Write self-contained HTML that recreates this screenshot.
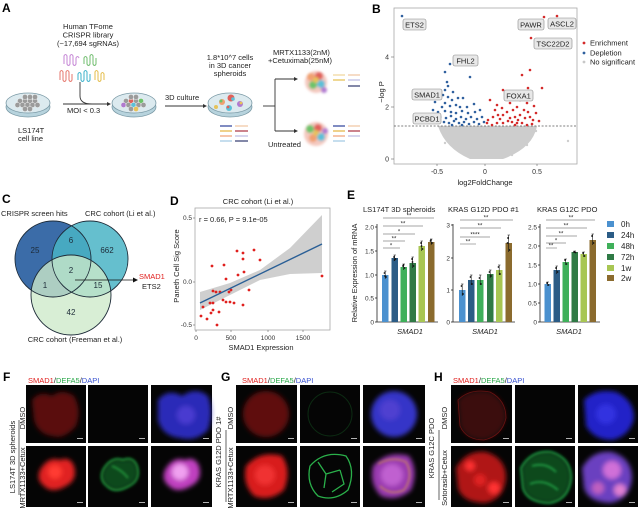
<!DOCTYPE html>
<html><head><meta charset="utf-8"><style>
html,body{margin:0;padding:0;background:#fff;}
svg{display:block;font-family:"Liberation Sans",Arial,sans-serif;}
</style></head><body>
<svg width="640" height="513" viewBox="0 0 640 513" xmlns="http://www.w3.org/2000/svg">
<defs>
<filter id="b1" x="-20%" y="-20%" width="140%" height="140%"><feGaussianBlur stdDeviation="1.2"/></filter>
<filter id="b2" x="-20%" y="-20%" width="140%" height="140%"><feGaussianBlur stdDeviation="2.5"/></filter>
<filter id="b3" x="-30%" y="-30%" width="160%" height="160%"><feGaussianBlur stdDeviation="4"/></filter>
</defs>
<rect width="640" height="513" fill="#fff"/>

<!-- ================= PANEL A ================= -->
<text x="2" y="12" font-size="12" font-weight="bold">A</text>
<g font-size="7.5" fill="#222" text-anchor="middle">
<text x="88" y="29">Human TFome</text>
<text x="88" y="37.5">CRISPR library</text>
<text x="88" y="46">(~17,694 sgRNAs)</text>
</g>
<g fill="none" stroke-width="1.1">
<path d="M64 64 v-8 q1.5 -3 3 0 v8 q1.5 3 3 0 v-8 q1.5 -3 3 0 v8 q1.5 3 3 0 v-6 q1.5-3 3 0" stroke="#c98fd8"/>
<path d="M84 64 v-6 q1.5 -3 3 0 v6 q1.5 3 3 0 v-8 q1.5 -3 3 0 v8 q1.5 3 3 0 v-6" stroke="#7cc27a"/>
<path d="M60 80 v-8 q1.5 -3 3 0 v8 q1.5 3 3 0 v-8 q1.5 -3 3 0 v8 q1.5 3 3 0 v-6" stroke="#e8837a"/>
<path d="M78 80 v-6 q1.5 -3 3 0 v6 q1.5 3 3 0 v-8 q1.5 -3 3 0 v8 q1.5 3 3 0 v-6" stroke="#4eb8cf"/>
<path d="M95 80 v-8 q1.5 -3 3 0 v8 q1.5 3 3 0 v-6 q1.5 -3 3 0 v6" stroke="#e6c25a"/>
</g>
<path d="M80 82 L80 96 Q80 104 92 104" fill="none" stroke="#333" stroke-width="0.9"/>
<g stroke="#7b9aa6" stroke-width="0.8">
<ellipse cx="28" cy="107" rx="22" ry="10" fill="#b7d3dd"/>
<ellipse cx="28" cy="103" rx="22" ry="10" fill="#dceaef"/>
<ellipse cx="134" cy="107" rx="22" ry="10" fill="#b7d3dd"/>
<ellipse cx="134" cy="103" rx="22" ry="10" fill="#dceaef"/>
<ellipse cx="230" cy="107" rx="22" ry="10" fill="#b7d3dd"/>
<ellipse cx="230" cy="103" rx="22" ry="10" fill="#dceaef"/>
</g>
<g fill="#9b9b9b" stroke="#eee" stroke-width="0.5">
<circle cx="20" cy="101" r="2.6"/><circle cx="25" cy="101" r="2.6"/><circle cx="30" cy="101" r="2.6"/><circle cx="35" cy="101" r="2.6"/>
<circle cx="17.5" cy="105" r="2.6"/><circle cx="22.5" cy="105" r="2.6"/><circle cx="27.5" cy="105" r="2.6"/><circle cx="32.5" cy="105" r="2.6"/><circle cx="37.5" cy="105" r="2.6"/>
<circle cx="25" cy="97" r="2.6"/><circle cx="30" cy="97" r="2.6"/><circle cx="35" cy="97" r="2.6"/>
<circle cx="25" cy="109" r="2.6"/><circle cx="30" cy="109" r="2.6"/>
</g>
<g stroke="#eee" stroke-width="0.5">
<circle cx="126" cy="101" r="2.6" fill="#9b9b9b"/><circle cx="131" cy="101" r="2.6" fill="#e0605a"/><circle cx="136" cy="101" r="2.6" fill="#9b9b9b"/><circle cx="141" cy="101" r="2.6" fill="#6cc36a"/>
<circle cx="123.5" cy="105" r="2.6" fill="#b07ad0"/><circle cx="128.5" cy="105" r="2.6" fill="#9b9b9b"/><circle cx="133.5" cy="105" r="2.6" fill="#5cc0d8"/><circle cx="138.5" cy="105" r="2.6" fill="#9b9b9b"/><circle cx="143.5" cy="105" r="2.6" fill="#9b9b9b"/>
<circle cx="131" cy="97" r="2.6" fill="#9b9b9b"/><circle cx="136" cy="97" r="2.6" fill="#9b9b9b"/>
<circle cx="131" cy="109" r="2.6" fill="#9b9b9b"/><circle cx="136" cy="109" r="2.6" fill="#e6c25a"/>
</g>
<g>
<circle cx="222" cy="102" r="3" fill="#f0a070"/><circle cx="221" cy="101" r="1.5" fill="#6cc36a"/>
<circle cx="231" cy="98" r="3.5" fill="#e0605a"/><circle cx="233" cy="99" r="1.8" fill="#5cc0d8"/>
<circle cx="240" cy="104" r="3" fill="#b07ad0"/><circle cx="241" cy="103" r="1.4" fill="#e6c25a"/>
<circle cx="229" cy="108" r="3" fill="#5cc0d8"/><circle cx="228" cy="107" r="1.4" fill="#e0605a"/>
<circle cx="216" cy="107" r="2" fill="#e6c25a"/>
</g>
<text x="18" y="133" font-size="7.5" fill="#222">LS174T</text>
<text x="18" y="141" font-size="7.5" fill="#222">cell line</text>
<line x1="63" y1="104" x2="107" y2="104" stroke="#333" stroke-width="0.9"/>
<path d="M107 102 L111 104 L107 106 Z" fill="#333"/>
<text x="67" y="113" font-size="7.5" fill="#222">MOI &lt; 0.3</text>
<text x="165" y="100" font-size="7.5" fill="#222">3D culture</text>
<line x1="165" y1="106" x2="203" y2="106" stroke="#333" stroke-width="0.9"/>
<path d="M203 104 L207 106 L203 108 Z" fill="#333"/>
<g font-size="7.5" fill="#222" text-anchor="middle">
<text x="230" y="60">1.8*10^7 cells</text>
<text x="230" y="68">in 3D cancer</text>
<text x="230" y="76">spheroids</text>
</g>
<g stroke-width="1.3">
<line x1="220" y1="126" x2="232" y2="126" stroke="#3b4fa0"/><line x1="235" y1="126" x2="248" y2="126" stroke="#f2c9a8"/>
<line x1="220" y1="131" x2="232" y2="131" stroke="#e6b84a"/><line x1="235" y1="131" x2="248" y2="131" stroke="#b0404e"/>
<line x1="220" y1="136" x2="232" y2="136" stroke="#f0a880"/><line x1="235" y1="136" x2="248" y2="136" stroke="#c0c0e4"/>
<line x1="220" y1="141" x2="232" y2="141" stroke="#a8cce4"/><line x1="235" y1="141" x2="248" y2="141" stroke="#404878"/>
</g>
<g stroke="#333" stroke-width="0.9" fill="none">
<line x1="263" y1="106" x2="275" y2="106"/>
<line x1="275" y1="79" x2="275" y2="131"/>
<line x1="275" y1="79" x2="294" y2="79"/>
<line x1="275" y1="131" x2="294" y2="131"/>
</g>
<path d="M294 77 L298 79 L294 81 Z M294 129 L298 131 L294 133 Z" fill="#333"/>
<text x="273" y="55" font-size="7.5" fill="#222">MRTX1133(2nM)</text>
<text x="268" y="63" font-size="7.5" fill="#222">+Cetuximab(25nM)</text>
<text x="268" y="147" font-size="7.5" fill="#222">Untreated</text>
<g filter="url(#b1)">
<circle cx="316" cy="82" r="11" fill="#f4c9c0"/>
<circle cx="311" cy="77" r="4" fill="#f0a070"/><circle cx="319" cy="76" r="4" fill="#e0605a"/>
<circle cx="313" cy="85" r="4" fill="#6cc36a"/><circle cx="321" cy="84" r="4" fill="#5cc0d8"/>
<circle cx="316" cy="80" r="3" fill="#e6c25a"/><circle cx="324" cy="90" r="3" fill="#b07ad0"/>
<circle cx="316" cy="134" r="12" fill="#f4c9c0"/>
<circle cx="310" cy="129" r="4" fill="#6cc36a"/><circle cx="318" cy="128" r="4" fill="#e0605a"/>
<circle cx="313" cy="138" r="4" fill="#f0a070"/><circle cx="321" cy="137" r="4" fill="#5cc0d8"/>
<circle cx="316" cy="133" r="3" fill="#e6c25a"/><circle cx="325" cy="131" r="3" fill="#b07ad0"/>
</g>
<g stroke-width="1.3">
<line x1="333" y1="75" x2="345" y2="75" stroke="#f2d8a0"/><line x1="348" y1="75" x2="360" y2="75" stroke="#f2c9a8"/>
<line x1="333" y1="80" x2="345" y2="80" stroke="#e6c25a"/><line x1="348" y1="80" x2="360" y2="80" stroke="#c0c0e4"/>
<line x1="348" y1="86" x2="360" y2="86" stroke="#404878"/>
<line x1="333" y1="126" x2="345" y2="126" stroke="#3b4fa0"/><line x1="348" y1="126" x2="360" y2="126" stroke="#f2c9a8"/>
<line x1="333" y1="131" x2="345" y2="131" stroke="#e6b84a"/><line x1="348" y1="131" x2="360" y2="131" stroke="#b0404e"/>
<line x1="333" y1="136" x2="345" y2="136" stroke="#f0a880"/><line x1="348" y1="136" x2="360" y2="136" stroke="#c0c0e4"/>
<line x1="333" y1="141" x2="345" y2="141" stroke="#a8cce4"/>
</g>

<!-- ================= PANEL B ================= -->
<text x="372" y="13" font-size="12" font-weight="bold">B</text>
<rect x="394" y="8" width="183" height="156" fill="#fff" stroke="#a8a8a8" stroke-width="0.8"/>
<path d="M438 126 L537 126 Q533 148 503 159 L470 159 Q445 148 438 126 Z" fill="#cdcdcd"/>
<g fill="#cdcdcd">
<circle cx="445" cy="143" r="1.2"/><circle cx="568" cy="141" r="1.2"/><circle cx="441" cy="130" r="1.2"/><circle cx="536" cy="131" r="1.2"/>
<circle cx="450" cy="140" r="1.2"/><circle cx="527" cy="145" r="1.2"/><circle cx="462" cy="153" r="1.2"/><circle cx="512" cy="155" r="1.2"/>
</g>
<line x1="394" y1="126" x2="577" y2="126" stroke="#555" stroke-width="0.7" stroke-dasharray="2,1.6"/>
<g fill="#2f609e">
<circle cx="402" cy="16" r="1.3"/><circle cx="450" cy="64" r="1.3"/><circle cx="445" cy="72" r="1.3"/><circle cx="470" cy="77" r="1.3"/><circle cx="447" cy="82" r="1.3"/><circle cx="445" cy="90" r="1.3"/><circle cx="443" cy="95" r="1.3"/><circle cx="448" cy="97" r="1.3"/><circle cx="452" cy="100" r="1.3"/><circle cx="458" cy="98" r="1.3"/><circle cx="463" cy="98" r="1.3"/><circle cx="445" cy="103" r="1.3"/><circle cx="442" cy="107" r="1.3"/><circle cx="450" cy="106" r="1.3"/><circle cx="456" cy="105" r="1.3"/><circle cx="460" cy="107" r="1.3"/><circle cx="467" cy="107" r="1.3"/><circle cx="474" cy="104" r="1.3"/><circle cx="435" cy="102" r="1.3"/><circle cx="433" cy="110" r="1.3"/><circle cx="438" cy="112" r="1.3"/><circle cx="445" cy="111" r="1.3"/><circle cx="451" cy="112" r="1.3"/><circle cx="456" cy="113" r="1.3"/><circle cx="462" cy="111" r="1.3"/><circle cx="468" cy="113" r="1.3"/><circle cx="475" cy="112" r="1.3"/><circle cx="480" cy="110" r="1.3"/><circle cx="440" cy="117" r="1.3"/><circle cx="446" cy="118" r="1.3"/><circle cx="451" cy="116" r="1.3"/><circle cx="456" cy="119" r="1.3"/><circle cx="461" cy="117" r="1.3"/><circle cx="466" cy="119" r="1.3"/><circle cx="471" cy="117" r="1.3"/><circle cx="477" cy="119" r="1.3"/><circle cx="482" cy="117" r="1.3"/><circle cx="444" cy="122" r="1.3"/><circle cx="449" cy="123" r="1.3"/><circle cx="454" cy="121" r="1.3"/><circle cx="459" cy="123" r="1.3"/><circle cx="464" cy="122" r="1.3"/><circle cx="469" cy="124" r="1.3"/><circle cx="474" cy="122" r="1.3"/><circle cx="479" cy="124" r="1.3"/><circle cx="484" cy="122" r="1.3"/><circle cx="452" cy="125" r="1.3"/><circle cx="462" cy="125" r="1.3"/><circle cx="448" cy="86" r="1.3"/><circle cx="453" cy="92" r="1.3"/><circle cx="438" cy="93" r="1.3"/>
</g>
<g fill="#d42a2a">
<circle cx="544" cy="17" r="1.3"/><circle cx="557" cy="16" r="1.3"/><circle cx="531" cy="38" r="1.3"/><circle cx="522" cy="75" r="1.3"/><circle cx="530" cy="70" r="1.3"/><circle cx="542" cy="88" r="1.3"/><circle cx="503" cy="90" r="1.3"/><circle cx="528" cy="88" r="1.3"/><circle cx="490" cy="100" r="1.3"/><circle cx="497" cy="105" r="1.3"/><circle cx="502" cy="108" r="1.3"/><circle cx="510" cy="103" r="1.3"/><circle cx="517" cy="107" r="1.3"/><circle cx="520" cy="100" r="1.3"/><circle cx="523" cy="98" r="1.3"/><circle cx="527" cy="103" r="1.3"/><circle cx="530" cy="97" r="1.3"/><circle cx="528" cy="112" r="1.3"/><circle cx="530" cy="117" r="1.3"/><circle cx="520" cy="115" r="1.3"/><circle cx="515" cy="117" r="1.3"/><circle cx="510" cy="118" r="1.3"/><circle cx="503" cy="115" r="1.3"/><circle cx="498" cy="115" r="1.3"/><circle cx="493" cy="117" r="1.3"/><circle cx="488" cy="120" r="1.3"/><circle cx="487" cy="123" r="1.3"/><circle cx="492" cy="125" r="1.3"/><circle cx="497" cy="123" r="1.3"/><circle cx="503" cy="123" r="1.3"/><circle cx="512" cy="122" r="1.3"/><circle cx="517" cy="123" r="1.3"/><circle cx="522" cy="123" r="1.3"/><circle cx="527" cy="125" r="1.3"/><circle cx="532" cy="124" r="1.3"/><circle cx="507" cy="112" r="1.3"/><circle cx="513" cy="110" r="1.3"/><circle cx="524" cy="110" r="1.3"/><circle cx="534" cy="106" r="1.3"/><circle cx="536" cy="113" r="1.3"/><circle cx="525" cy="118" r="1.3"/><circle cx="518" cy="120" r="1.3"/><circle cx="508" cy="121" r="1.3"/><circle cx="495" cy="110" r="1.3"/><circle cx="500" cy="119" r="1.3"/><circle cx="533" cy="120" r="1.3"/><circle cx="539" cy="121" r="1.3"/><circle cx="515" cy="125" r="1.3"/>
</g>
<g font-size="7.5" fill="#222" text-anchor="middle">
<rect x="403" y="19" width="23" height="11" rx="2" fill="#e8e8e8" stroke="#888" stroke-width="0.6"/><text x="414.5" y="27.5">ETS2</text>
<rect x="518" y="19" width="26" height="11" rx="2" fill="#e8e8e8" stroke="#888" stroke-width="0.6"/><text x="531" y="27.5">PAWR</text>
<rect x="548" y="18" width="28" height="11" rx="2" fill="#e8e8e8" stroke="#888" stroke-width="0.6"/><text x="562" y="26.5">ASCL2</text>
<rect x="534" y="38" width="38" height="11" rx="2" fill="#e8e8e8" stroke="#888" stroke-width="0.6"/><text x="553" y="46.5">TSC22D2</text>
<rect x="453" y="55" width="25" height="11" rx="2" fill="#e8e8e8" stroke="#888" stroke-width="0.6"/><text x="465.5" y="63.5">FHL2</text>
<rect x="412" y="89" width="30" height="11" rx="2" fill="#e8e8e8" stroke="#888" stroke-width="0.6"/><text x="427" y="97.5">SMAD1</text>
<rect x="504" y="90" width="29" height="11" rx="2" fill="#e8e8e8" stroke="#888" stroke-width="0.6"/><text x="518.5" y="98.5">FOXA1</text>
<rect x="413" y="113" width="28" height="11" rx="2" fill="#e8e8e8" stroke="#888" stroke-width="0.6"/><text x="427" y="121.5">PCBD1</text>
</g>
<g font-size="7" fill="#333">
<text x="389" y="59.5" text-anchor="end">4</text>
<text x="389" y="109.5" text-anchor="end">2</text>
<text x="389" y="161.5" text-anchor="end">0</text>
<text x="437" y="174" text-anchor="middle">-0.5</text>
<text x="485" y="174" text-anchor="middle">0</text>
<text x="537" y="174" text-anchor="middle">0.5</text>
</g>
<g stroke="#666" stroke-width="0.6">
<line x1="391" y1="57" x2="394" y2="57"/><line x1="391" y1="107" x2="394" y2="107"/><line x1="391" y1="159" x2="394" y2="159"/>
<line x1="437" y1="164" x2="437" y2="166"/><line x1="485" y1="164" x2="485" y2="166"/><line x1="537" y1="164" x2="537" y2="166"/>
</g>
<text x="485" y="185" font-size="7.5" fill="#222" text-anchor="middle">log2FoldChange</text>
<text transform="translate(384,92) rotate(-90)" font-size="7.5" fill="#222" text-anchor="middle">−log P</text>
<circle cx="584" cy="43" r="1.4" fill="#d42a2a"/><circle cx="584" cy="53" r="1.4" fill="#2f609e"/><circle cx="584" cy="62" r="1.4" fill="#c8c8c8"/>
<g font-size="7.5" fill="#222">
<text x="590" y="45.5">Enrichment</text><text x="590" y="55.5">Depletion</text><text x="590" y="64.5">No significant</text>
</g>

<!-- ================= PANEL C ================= -->
<text x="2" y="203" font-size="12" font-weight="bold">C</text>
<text x="1" y="216" font-size="7.5" fill="#222">CRISPR screen hits</text>
<text x="85" y="216" font-size="7.5" fill="#222">CRC cohort (Li et al.)</text>
<circle cx="53" cy="259" r="38" fill="#3b6ca8"/>
<circle cx="90" cy="259" r="38" fill="#4ab4c6" fill-opacity="0.85"/>
<circle cx="71" cy="295" r="40" fill="#cde9c9" fill-opacity="0.78"/>
<g fill="none" stroke="#1d2b38" stroke-width="0.9">
<circle cx="53" cy="259" r="38"/><circle cx="90" cy="259" r="38"/><circle cx="71" cy="295" r="40"/>
</g>
<g font-size="8" fill="#1d2b38" text-anchor="middle">
<text x="35" y="253">25</text><text x="71" y="243">6</text><text x="107" y="253">662</text>
<text x="71" y="273">2</text><text x="45" y="288">1</text><text x="98" y="288">15</text><text x="71" y="315">42</text>
</g>
<line x1="75" y1="280" x2="133" y2="280" stroke="#111" stroke-width="0.8"/>
<path d="M133 277.5 L138 280 L133 282.5 Z" fill="#111"/>
<text x="139" y="279" font-size="7.5" fill="#e0201e">SMAD1</text>
<text x="142" y="289" font-size="7.5" fill="#222">ETS2</text>
<text x="75" y="342" font-size="7.5" fill="#222" text-anchor="middle">CRC cohort (Freeman et al.)</text>

<!-- ================= PANEL D ================= -->
<text x="170" y="205" font-size="12" font-weight="bold">D</text>
<text x="258" y="204" font-size="7.5" fill="#222" text-anchor="middle">CRC cohort (Li et al.)</text>
<rect x="195" y="208" width="135" height="122" fill="#fff" stroke="#a8a8a8" stroke-width="0.8"/>
<path d="M200 292 L230 283 L260 270 L290 248 L322 215 L322 273 L290 274 L260 280 L230 295 L200 310 Z" fill="#cfcfcf"/>
<g fill="#e0201e">
<circle cx="201" cy="316" r="1.4"/><circle cx="203" cy="307" r="1.4"/><circle cx="207" cy="319" r="1.4"/><circle cx="211" cy="313" r="1.4"/><circle cx="213" cy="310" r="1.4"/><circle cx="212" cy="266" r="1.4"/><circle cx="213" cy="291" r="1.4"/><circle cx="216" cy="292" r="1.4"/><circle cx="219" cy="312" r="1.4"/><circle cx="217" cy="325" r="1.4"/><circle cx="210" cy="303" r="1.4"/><circle cx="213" cy="303" r="1.4"/><circle cx="220" cy="292" r="1.4"/><circle cx="224" cy="265" r="1.4"/><circle cx="223" cy="300" r="1.4"/><circle cx="226" cy="302" r="1.4"/><circle cx="226" cy="279" r="1.4"/><circle cx="229" cy="292" r="1.4"/><circle cx="230" cy="302" r="1.4"/><circle cx="231" cy="290" r="1.4"/><circle cx="234" cy="303" r="1.4"/><circle cx="237" cy="251" r="1.4"/><circle cx="238" cy="275" r="1.4"/><circle cx="243" cy="253" r="1.4"/><circle cx="243" cy="259" r="1.4"/><circle cx="243" cy="305" r="1.4"/><circle cx="244" cy="272" r="1.4"/><circle cx="249" cy="290" r="1.4"/><circle cx="254" cy="250" r="1.4"/><circle cx="260" cy="260" r="1.4"/><circle cx="322" cy="276" r="1.4"/>
</g>
<line x1="200" y1="303" x2="322" y2="244" stroke="#2a5f96" stroke-width="1.4"/>
<text x="199" y="222" font-size="7.5" fill="#222">r = 0.66, P = 9.1e-05</text>
<g font-size="6.5" fill="#333">
<text x="192" y="220" text-anchor="end">0.5</text>
<text x="192" y="284" text-anchor="end">0.0</text>
<text x="192" y="327" text-anchor="end">-0.5</text>
<text x="196" y="340" text-anchor="middle">0</text>
<text x="231" y="340" text-anchor="middle">500</text>
<text x="268" y="340" text-anchor="middle">1000</text>
<text x="303" y="340" text-anchor="middle">1500</text>
</g>
<g stroke="#666" stroke-width="0.6">
<line x1="193" y1="218" x2="195" y2="218"/><line x1="193" y1="282" x2="195" y2="282"/><line x1="193" y1="325" x2="195" y2="325"/>
<line x1="196" y1="330" x2="196" y2="332"/><line x1="231" y1="330" x2="231" y2="332"/><line x1="268" y1="330" x2="268" y2="332"/><line x1="303" y1="330" x2="303" y2="332"/>
</g>
<text x="261" y="350" font-size="7.5" fill="#222" text-anchor="middle">SMAD1 Expression</text>
<text transform="translate(179,266) rotate(-90)" font-size="7.5" fill="#222" text-anchor="middle">Paneth Cell Sig Score</text>

<!-- ================= PANEL E ================= -->
<text x="347" y="199" font-size="12" font-weight="bold">E</text>
<g font-size="7.5" fill="#222">
<text x="363" y="212">LS174T 3D spheroids</text>
<text x="448" y="212">KRAS G12D PDO #1</text>
<text x="537" y="212">KRAS G12C PDO</text>
</g>
<text transform="translate(357,273) rotate(-90)" font-size="7.5" fill="#222" text-anchor="middle">Relative Expression of mRNA</text>
<g stroke="#222" stroke-width="0.8" fill="none">
<line x1="377" y1="224" x2="377" y2="322"/><line x1="377" y1="322" x2="438" y2="322"/>
<line x1="453" y1="224" x2="453" y2="322"/><line x1="453" y1="322" x2="515" y2="322"/>
<line x1="540" y1="224" x2="540" y2="322"/><line x1="540" y1="322" x2="600" y2="322"/>
<line x1="375" y1="227" x2="377" y2="227"/><line x1="375" y1="251" x2="377" y2="251"/><line x1="375" y1="275" x2="377" y2="275"/><line x1="375" y1="298" x2="377" y2="298"/><line x1="375" y1="322" x2="377" y2="322"/>
<line x1="451" y1="225" x2="453" y2="225"/><line x1="451" y1="258" x2="453" y2="258"/><line x1="451" y1="290" x2="453" y2="290"/><line x1="451" y1="322" x2="453" y2="322"/>
<line x1="538" y1="227" x2="540" y2="227"/><line x1="538" y1="246" x2="540" y2="246"/><line x1="538" y1="265" x2="540" y2="265"/><line x1="538" y1="284" x2="540" y2="284"/><line x1="538" y1="303" x2="540" y2="303"/><line x1="538" y1="322" x2="540" y2="322"/>
</g>
<g font-size="6.5" fill="#333" text-anchor="end">
<text x="374" y="229.5">2.0</text><text x="374" y="253.5">1.5</text><text x="374" y="277.5">1.0</text><text x="374" y="300.5">0.5</text><text x="374" y="324.5">0</text>
<text x="450" y="227.5">3</text><text x="450" y="260.5">2</text><text x="450" y="292.5">1</text><text x="450" y="324.5">0</text>
<text x="537" y="229.5">2.5</text><text x="537" y="248.5">2.0</text><text x="537" y="267.5">1.5</text><text x="537" y="286.5">1.0</text><text x="537" y="305.5">0.5</text><text x="537" y="324.5">0</text>
</g>
<g>
<rect x="382" y="275" width="6.5" height="47" fill="#4b91cf"/>
<rect x="391.5" y="258" width="6.5" height="64" fill="#2b5c86"/>
<rect x="400.5" y="267" width="6.5" height="55" fill="#3fb05a"/>
<rect x="409.5" y="263" width="6.5" height="59" fill="#2f7a45"/>
<rect x="418.5" y="246" width="6.5" height="76" fill="#a8c653"/>
<rect x="428" y="242" width="6.5" height="80" fill="#8b6b2e"/>
<rect x="459" y="290" width="6.5" height="32" fill="#4b91cf"/>
<rect x="468" y="280" width="6.5" height="42" fill="#2b5c86"/>
<rect x="477" y="280" width="6.5" height="42" fill="#3fb05a"/>
<rect x="487" y="274" width="6.5" height="48" fill="#2f7a45"/>
<rect x="496" y="270" width="6.5" height="52" fill="#a8c653"/>
<rect x="505.5" y="243" width="6.5" height="79" fill="#8b6b2e"/>
<rect x="544.5" y="284" width="6.5" height="38" fill="#4b91cf"/>
<rect x="553.5" y="270" width="6.5" height="52" fill="#2b5c86"/>
<rect x="562.5" y="262" width="6.5" height="60" fill="#3fb05a"/>
<rect x="571.5" y="252" width="6.5" height="70" fill="#2f7a45"/>
<rect x="580.5" y="254" width="6.5" height="68" fill="#a8c653"/>
<rect x="589.5" y="240" width="6.5" height="82" fill="#8b6b2e"/>
</g>
<g stroke="#111" stroke-width="0.6">
<path d="M385.2 271v8M384 271h2.5M394.7 255v6M393.5 255h2.5M403.7 264v6M402.5 264h2.5M412.7 257v11M411.5 257h2.5M421.7 241v10M420.5 241h2.5M431.2 239v6M430 239h2.5"/>
<path d="M462.2 284v12M461 284h2.5M471.2 275v10M470 275h2.5M480.2 275v10M479 275h2.5M490.2 270v8M489 270h2.5M499.2 265v10M498 265h2.5M508.7 235v17M507.5 235h2.5"/>
<path d="M547.7 282v4M546.5 282h2.5M556.7 266v8M555.5 266h2.5M565.7 259v6M564.5 259h2.5M574.7 251v2M573.5 251h2.5M583.7 252v5M582.5 252h2.5M592.7 234v11M591.5 234h2.5"/>
</g>
<g fill="#111">
<circle cx="384.5" cy="273" r="0.9"/><circle cx="386" cy="277" r="0.9"/><circle cx="385" cy="276" r="0.9"/>
<circle cx="394" cy="257" r="0.9"/><circle cx="395.5" cy="259" r="0.9"/><circle cx="394.5" cy="260" r="0.9"/>
<circle cx="403" cy="266" r="0.9"/><circle cx="404.5" cy="268" r="0.9"/><circle cx="403.5" cy="265" r="0.9"/>
<circle cx="412" cy="259" r="0.9"/><circle cx="413.5" cy="266" r="0.9"/><circle cx="412.5" cy="262" r="0.9"/>
<circle cx="421" cy="243" r="0.9"/><circle cx="422.5" cy="249" r="0.9"/><circle cx="421.5" cy="246" r="0.9"/>
<circle cx="430.5" cy="241" r="0.9"/><circle cx="432" cy="243" r="0.9"/><circle cx="431" cy="240" r="0.9"/>
<circle cx="461.5" cy="286" r="0.9"/><circle cx="463" cy="294" r="0.9"/>
<circle cx="470.5" cy="277" r="0.9"/><circle cx="472" cy="284" r="0.9"/>
<circle cx="479.5" cy="278" r="0.9"/><circle cx="481" cy="284" r="0.9"/>
<circle cx="489.5" cy="272" r="0.9"/><circle cx="491" cy="276" r="0.9"/>
<circle cx="498.5" cy="267" r="0.9"/><circle cx="500" cy="274" r="0.9"/>
<circle cx="508" cy="238" r="0.9"/><circle cx="509.5" cy="250" r="0.9"/><circle cx="507.5" cy="243" r="0.9"/>
<circle cx="547" cy="283" r="0.9"/><circle cx="548.5" cy="285" r="0.9"/>
<circle cx="556" cy="268" r="0.9"/><circle cx="557.5" cy="272" r="0.9"/>
<circle cx="565" cy="260" r="0.9"/><circle cx="566.5" cy="264" r="0.9"/>
<circle cx="574" cy="252" r="0.9"/><circle cx="575.5" cy="252.5" r="0.9"/>
<circle cx="583" cy="253" r="0.9"/><circle cx="584.5" cy="256" r="0.9"/>
<circle cx="592" cy="236" r="0.9"/><circle cx="593.5" cy="243" r="0.9"/>
</g>
<g stroke="#888" stroke-width="0.7">
<line x1="383" y1="248" x2="400" y2="248"/><line x1="383" y1="241" x2="405" y2="241"/><line x1="383" y1="234" x2="415" y2="234"/><line x1="383" y1="226" x2="423" y2="226"/><line x1="383" y1="218" x2="434" y2="218"/>
<line x1="460" y1="244" x2="476" y2="244"/><line x1="460" y1="237" x2="490" y2="237"/><line x1="460" y1="228" x2="501" y2="228"/><line x1="460" y1="220" x2="513" y2="220"/>
<line x1="546" y1="248" x2="557" y2="248"/><line x1="546" y1="243" x2="566" y2="243"/><line x1="546" y1="236" x2="577" y2="236"/><line x1="546" y1="228" x2="587" y2="228"/><line x1="546" y1="220" x2="595" y2="220"/>
</g>
<g font-size="6" fill="#222" text-anchor="middle">
<text x="391" y="247.5">*</text><text x="394" y="240.5">**</text><text x="399" y="233.5">*</text><text x="403" y="225.5">**</text><text x="409" y="217.5">**</text>
<text x="468" y="243.5">**</text><text x="475" y="236.5">****</text><text x="480" y="227.5">**</text><text x="486" y="219.5">**</text>
<text x="551" y="247.5">**</text><text x="556" y="242.5">*</text><text x="561" y="235.5">**</text><text x="566" y="227.5">**</text><text x="571" y="219.5">**</text>
</g>
<g font-size="7.5" fill="#222" font-style="italic" text-anchor="middle">
<text x="410" y="334">SMAD1</text><text x="485" y="334">SMAD1</text><text x="569" y="334">SMAD1</text>
</g>
<rect x="607" y="221" width="7" height="6" fill="#4b91cf"/>
<rect x="607" y="232" width="7" height="6" fill="#2b5c86"/>
<rect x="607" y="243" width="7" height="6" fill="#3fb05a"/>
<rect x="607" y="254" width="7" height="6" fill="#2f7a45"/>
<rect x="607" y="265" width="7" height="6" fill="#a8c653"/>
<rect x="607" y="275" width="7" height="6" fill="#8b6b2e"/>
<g font-size="8" fill="#222">
<text x="621" y="227">0h</text><text x="621" y="238">24h</text><text x="621" y="249">48h</text><text x="621" y="260">72h</text><text x="621" y="271">1w</text><text x="621" y="281">2w</text>
</g>

<!-- ================= PANEL F ================= -->
<text x="3" y="381" font-size="12" font-weight="bold">F</text>
<text x="28" y="383" font-size="7.5"><tspan fill="#e0201e">SMAD1</tspan><tspan fill="#222">/</tspan><tspan fill="#2aa84a">DEFA5</tspan><tspan fill="#222">/</tspan><tspan fill="#3650d0">DAPI</tspan></text>
<text transform="translate(15,457) rotate(-90)" font-size="7.5" fill="#222" text-anchor="middle">LS174T 3D spheroids</text>
<line x1="19" y1="420" x2="19" y2="495" stroke="#222" stroke-width="0.7"/>
<text transform="translate(25,418) rotate(-90)" font-size="7.5" fill="#222" text-anchor="middle">DMSO</text>
<text transform="translate(25,478) rotate(-90)" font-size="7.5" fill="#222" text-anchor="middle">MRTX1133+Cetux</text>
<g>
<rect x="26" y="385" width="60" height="58" fill="#050505"/>
<rect x="88" y="385" width="60" height="58" fill="#050505"/>
<rect x="151" y="385" width="61" height="58" fill="#050505"/>
<rect x="26" y="446" width="60" height="61" fill="#050505"/>
<rect x="88" y="446" width="60" height="61" fill="#050505"/>
<rect x="151" y="446" width="61" height="61" fill="#050505"/>
</g>
<g filter="url(#b2)">
<path d="M32 400 Q40 390 52 396 Q62 388 74 396 Q82 410 76 426 Q64 440 52 436 Q38 434 34 420 Z" fill="#5a0d0d"/>
<path d="M158 400 Q168 388 182 396 Q196 386 208 396 Q214 412 208 430 Q196 442 180 438 Q162 436 158 420 Z" fill="#2a2ab8"/>
<circle cx="186" cy="415" r="9" fill="#4a3ad0"/>
<path d="M40 470 Q48 456 60 460 Q70 456 74 466 Q78 480 66 486 Q52 494 44 486 Q36 480 40 470 Z" fill="#e02020"/>
<circle cx="55" cy="472" r="7" fill="#ff3a30"/>
<path d="M165 470 Q173 456 185 460 Q195 456 199 466 Q203 480 191 486 Q177 494 169 486 Q161 480 165 470 Z" fill="#c040c0"/>
<circle cx="180" cy="472" r="8" fill="#f0a0f0"/>
<path d="M103 470 Q111 456 123 460 Q133 456 137 466 Q141 480 129 486 Q115 494 107 486 Q99 480 103 470 Z" fill="#0f4a1c"/>
</g>
<g filter="url(#b1)" fill="none" stroke="#28a040" stroke-width="1.6">
<path d="M103 470 Q111 456 123 460 Q133 456 137 466 Q141 480 129 486 Q115 494 107 486 Q99 480 103 470 Z"/>
<path d="M112 466 Q122 470 128 478"/>
</g>
<g fill="#ddd"><rect x="77" y="438" width="6" height="0.8"/><rect x="139" y="438" width="6" height="0.8"/><rect x="203" y="438" width="6" height="0.8"/><rect x="77" y="502" width="6" height="0.8"/><rect x="139" y="502" width="6" height="0.8"/><rect x="203" y="502" width="6" height="0.8"/></g>

<!-- ================= PANEL G ================= -->
<text x="221" y="381" font-size="12" font-weight="bold">G</text>
<text x="242" y="383" font-size="7.5"><tspan fill="#e0201e">SMAD1</tspan><tspan fill="#222">/</tspan><tspan fill="#2aa84a">DEFA5</tspan><tspan fill="#222">/</tspan><tspan fill="#3650d0">DAPI</tspan></text>
<text transform="translate(221,452) rotate(-90)" font-size="7.5" fill="#222" text-anchor="middle">KRAS G12D PDO 1#</text>
<line x1="226" y1="430" x2="226" y2="502" stroke="#222" stroke-width="0.7"/>
<text transform="translate(233,418) rotate(-90)" font-size="7.5" fill="#222" text-anchor="middle">DMSO</text>
<text transform="translate(233,478) rotate(-90)" font-size="7.5" fill="#222" text-anchor="middle">MRTX1133+Cetux</text>
<g>
<rect x="236" y="385" width="61" height="58" fill="#050505"/>
<rect x="300" y="385" width="60" height="58" fill="#050505"/>
<rect x="363" y="385" width="62" height="58" fill="#050505"/>
<rect x="236" y="446" width="61" height="61" fill="#050505"/>
<rect x="300" y="446" width="60" height="61" fill="#050505"/>
<rect x="363" y="446" width="62" height="61" fill="#050505"/>
</g>
<g filter="url(#b2)">
<circle cx="266" cy="414" r="23" fill="#5e1010"/>
<circle cx="394" cy="414" r="23" fill="#3434c8"/>
<circle cx="390" cy="410" r="10" fill="#5040d0"/>
<path d="M246 466 Q260 450 282 456 Q292 470 284 490 Q270 502 254 496 Q242 484 246 466 Z" fill="#d81c1c"/>
<circle cx="265" cy="475" r="10" fill="#f03030"/>
<path d="M373 466 Q387 450 409 456 Q419 470 411 490 Q397 502 381 496 Q369 484 373 466 Z" fill="#9a3ab0"/>
<circle cx="392" cy="475" r="11" fill="#c060d0"/>
</g>
<g filter="url(#b1)" fill="none" stroke="#d8a040" stroke-width="1">
<path d="M378 464 Q392 456 406 462 Q414 476 404 490 Q390 496 380 486"/>
</g>
<g fill="none" stroke="#2ab04a" stroke-width="1.3">
<path d="M310 466 Q324 450 346 456 Q356 470 348 490 Q334 502 318 496 Q306 484 310 466 Z"/>
<path d="M318 462 L326 474 L340 470 M326 474 L324 488 M340 470 L344 484 L332 492"/>
</g>
<circle cx="330" cy="414" r="22" fill="none" stroke="#0c2a12" stroke-width="1"/>
<g fill="#ddd"><rect x="288" y="438" width="6" height="0.8"/><rect x="351" y="438" width="6" height="0.8"/><rect x="416" y="438" width="6" height="0.8"/><rect x="288" y="502" width="6" height="0.8"/><rect x="351" y="502" width="6" height="0.8"/><rect x="416" y="502" width="6" height="0.8"/></g>

<!-- ================= PANEL H ================= -->
<text x="434" y="381" font-size="12" font-weight="bold">H</text>
<text x="453" y="383" font-size="7.5"><tspan fill="#e0201e">SMAD1</tspan><tspan fill="#222">/</tspan><tspan fill="#2aa84a">DEFA5</tspan><tspan fill="#222">/</tspan><tspan fill="#3650d0">DAPI</tspan></text>
<text transform="translate(434,448) rotate(-90)" font-size="7.5" fill="#222" text-anchor="middle">KRAS G12C PDO</text>
<line x1="439" y1="430" x2="439" y2="500" stroke="#222" stroke-width="0.7"/>
<text transform="translate(447,418) rotate(-90)" font-size="7.5" fill="#222" text-anchor="middle">DMSO</text>
<text transform="translate(447,478) rotate(-90)" font-size="7.5" fill="#222" text-anchor="middle">Sotorasib+Cetux</text>
<g>
<rect x="451" y="385" width="61" height="58" fill="#050505"/>
<rect x="515" y="385" width="60" height="58" fill="#050505"/>
<rect x="578" y="385" width="60" height="58" fill="#050505"/>
<rect x="451" y="446" width="61" height="61" fill="#050505"/>
<rect x="515" y="446" width="60" height="61" fill="#050505"/>
<rect x="578" y="446" width="60" height="61" fill="#050505"/>
</g>
<g filter="url(#b2)">
<path d="M458 400 Q470 388 490 392 Q506 400 506 418 Q502 436 484 440 Q466 440 460 426 Z" fill="#3a0808"/>
<path d="M584 400 Q596 388 616 392 Q634 400 634 418 Q630 436 612 440 Q594 440 586 426 Z" fill="#2424c8"/>
<circle cx="606" cy="414" r="10" fill="#3030e0"/>
<path d="M456 468 Q466 450 486 452 Q506 458 506 478 Q504 500 484 503 Q462 502 458 488 Z" fill="#b01818"/>
<circle cx="470" cy="466" r="5" fill="#ff3030"/><circle cx="494" cy="488" r="6" fill="#ff3030"/><circle cx="480" cy="480" r="6" fill="#e02020"/>
<path d="M582 468 Q592 450 612 452 Q632 458 632 478 Q630 500 610 503 Q588 502 584 488 Z" fill="#6a40c0"/>
<circle cx="612" cy="470" r="9" fill="#d070d8"/><circle cx="598" cy="488" r="6" fill="#c060c0"/><circle cx="620" cy="490" r="6" fill="#e080d0"/>
<path d="M521 468 Q531 450 551 452 Q571 458 571 478 Q569 500 549 503 Q527 502 523 488 Z" fill="#0f4a1c"/>
</g>
<g filter="url(#b1)" fill="none" stroke="#24a848" stroke-width="1.6">
<path d="M521 468 Q531 450 551 452 Q571 458 571 478 Q569 500 549 503 Q527 502 523 488 Z"/>
<path d="M532 466 Q546 462 556 472 M530 484 Q544 478 558 490"/>
</g>
<path d="M458 400 Q470 388 490 392 Q506 400 506 418 Q502 436 484 440 Q466 440 460 426 Z" fill="none" stroke="#6a1212" stroke-width="0.8"/>
<g fill="#ddd"><rect x="503" y="438" width="6" height="0.8"/><rect x="566" y="438" width="6" height="0.8"/><rect x="629" y="438" width="6" height="0.8"/><rect x="503" y="502" width="6" height="0.8"/><rect x="566" y="502" width="6" height="0.8"/><rect x="629" y="502" width="6" height="0.8"/></g>
</svg>
</body></html>
